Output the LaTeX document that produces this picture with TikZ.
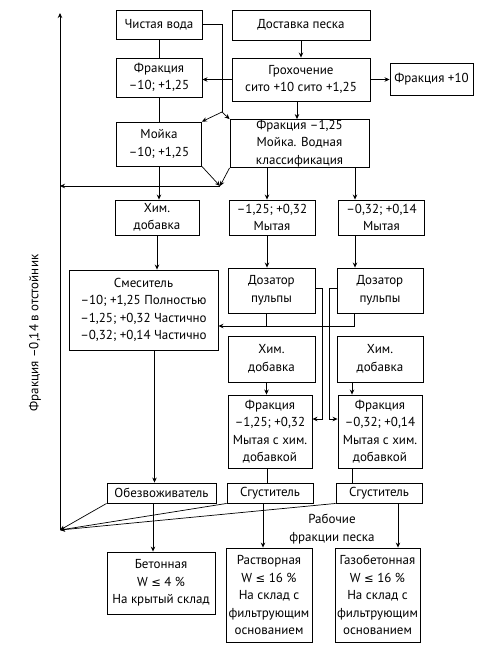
\documentclass[tikz,border=0pt]{standalone}
\usepackage{fontspec}
\setmainfont{PT Sans}
\newfontfamily\symf{DejaVu Sans}
\usetikzlibrary{arrows.meta}
\newcommand{\mylesym}{{\symf\fontsize{11.5pt}{12pt}\selectfont ≤}}
\begin{document}
\begin{tikzpicture}[x=1pt,y=-1pt,
  box/.style={draw, line width=0.9pt, align=center, inner sep=0.5pt,
    font=\fontsize{13pt}{17.5pt}\selectfont},
  lbl/.style={align=center, inner sep=0pt, font=\fontsize{13pt}{17.5pt}\selectfont},
  conn/.style={line width=0.7pt},
  arr/.style={conn, -{Stealth[length=5pt,width=4.5pt]}}]
\useasboundingbox (0,0) rectangle (479,649);
% top row
\node[box, minimum width=86pt, minimum height=29pt] (voda) at (159,24.5) {Чистая вода};
\node[box, minimum width=138pt, minimum height=30pt] (dost) at (301,25) {Доставка песка};
\node[box, minimum width=86pt, minimum height=39pt] (fr1) at (159,77.5) {Фракция\\–10; +1,25};
\node[box, minimum width=138pt, minimum height=43pt] (groh) at (301,79.5) {Грохочение\\сито +10 сито +1,25};
\node[box, minimum width=83pt, minimum height=32pt] (fr10) at (431.5,79) {Фракция +10};
\node[box, minimum width=85pt, minimum height=44pt] (moika) at (159,144) {Мойка\\–10; +1,25};
\node[box, minimum width=139pt, minimum height=47pt] (frw) at (299.5,143.5) {Фракция –1,25\\Мойка. Водная\\классификация};
\node[box, minimum width=84pt, minimum height=35pt] (him1) at (157,217.5) {Хим.\\добавка};
\node[box, minimum width=86pt, minimum height=35pt] (myt1) at (272,217.5) {–1,25; +0,32\\Мытая};
\node[box, minimum width=86pt, minimum height=35pt] (myt2) at (381.5,217.5) {–0,32; +0,14\\Мытая};
\node[box, minimum width=149pt, minimum height=80pt] (smes) at (143.5,310) {Смеситель\\–10; +1,25 Полностью\\–1,25; +0,32 Частично\\–0,32; +0,14 Частично};
\node[box, minimum width=87pt, minimum height=45pt] (doz1) at (271.5,290.5) {Дозатор\\пульпы};
\node[box, minimum width=86pt, minimum height=45pt] (doz2) at (380,290.5) {Дозатор\\пульпы};
\node[box, minimum width=87pt, minimum height=46pt] (him2) at (271.5,359) {Хим.\\добавка};
\node[box, minimum width=86pt, minimum height=46pt] (him3) at (380,359) {Хим.\\добавка};
\node[box, minimum width=84pt, minimum height=73pt] (frh1) at (270,431.5) {Фракция\\–1,25; +0,32\\Мытая с хим.\\добавкой};
\node[box, minimum width=84pt, minimum height=73pt] (frh2) at (380,431.5) {Фракция\\–0,32; +0,14\\Мытая с хим.\\добавкой};
\node[box, minimum width=109pt, minimum height=20pt] (obez) at (161.5,493) {Обезвоживатель};
\node[box, minimum width=86pt, minimum height=20pt] (sg1) at (270,493) {Сгуститель};
\node[box, minimum width=86pt, minimum height=20pt] (sg2) at (379,493) {Сгуститель};
\node[box, minimum width=108pt, minimum height=62pt] (bet) at (161,583) {Бетонная\\W \mylesym{} 4 \%\\На крытый склад};
\node[box, minimum width=86pt, minimum height=94pt] (rast) at (269,595) {Растворная\\W \mylesym{} 16 \%\\На склад с\\фильтрующим\\основанием};
\node[box, minimum width=85pt, minimum height=94pt] (gaz) at (377.5,595) {Газобетонная\\W \mylesym{} 16 \%\\На склад с\\фильтрующим\\основанием};
\node[lbl] (rab) at (332,529) {Рабочие\\фракции песка};
\node[lbl, rotate=90] (otst) at (35,333) {Фракция –0,14 в отстойник};
% coordinates
\coordinate (fork) at (222,112);
\coordinate (conv) at (220,186);
\coordinate (ltop) at (60,13);
\coordinate (lbot) at (60,530);
\coordinate (hrow) at (100,326);
\coordinate (ca) at (322,419);
\coordinate (cb) at (329,419);
% connectors
\draw[conn] (voda.east) -| (fork);
\draw[arr] (fork) -- (moika.north east);
\draw[arr] (fork) -- (frw.north west);
\draw[conn] (voda.south) -- (fr1.north);
\draw[conn] (fr1.south) -- (moika.north);
\draw[arr] (dost.south) -- (groh.north);
\draw[arr] (groh.west) -- (groh.west -| fr1.east);
\draw[arr] (groh.east) -- (groh.east -| fr10.west);
\draw[arr] ([xshift=-4pt]groh.south) -- ([xshift=-4pt]groh.south |- frw.north);
\draw[arr] (moika.south east) -- (conv);
\draw[arr] (frw.south west) -- (conv);
\draw[arr] (conv) -- (conv -| ltop);
\draw[arr] (lbot) -- (ltop);
\draw[arr] (moika.south) -- (moika.south |- him1.north);
\draw[arr] ([xshift=-5pt]myt1.north |- frw.south) -- ([xshift=-5pt]myt1.north);
\draw[arr] ([xshift=-26.5pt]myt2.north |- frw.south) -- ([xshift=-26.5pt]myt2.north);
\draw[arr] (him1.south) -- (him1.south |- smes.north);
\draw[arr] ([xshift=-5pt]myt1.south) -- ([xshift=-5pt]myt1.south |- doz1.north);
\draw[arr] ([xshift=-26.5pt]myt2.south) -- ([xshift=-26.5pt]myt2.south |- doz2.north);
\draw[arr] ([xshift=-26pt]doz2.south) |- (hrow -| smes.east);
\draw[conn] ([xshift=-5pt]doz1.south) -- ([xshift=-5pt]doz1.south |- hrow);
\draw[arr] ([yshift=2.5pt]doz1.east) -| (ca) -- (ca -| frh1.east);
\draw[arr] ([yshift=2.5pt]doz2.west) -| (cb) -- (cb -| frh2.west);
\draw[arr] ([xshift=-5pt]him2.south) -- ([xshift=-5pt]him2.south |- frh1.north);
\draw[arr] ([xshift=-28pt]him3.south) -- ([xshift=-28pt]him3.south |- frh2.north);
\draw[arr] ([xshift=-7pt]obez.north |- smes.south) -- ([xshift=-7pt]obez.north);
\draw[conn] ([xshift=-3pt]frh1.south) -- ([xshift=-3pt]frh1.south |- sg1.north);
\draw[conn] ([xshift=-28pt]frh2.south) -- ([xshift=-28pt]frh2.south |- sg2.north);
\draw[arr] ([xshift=-8.5pt]obez.south) -- ([xshift=-8.5pt]obez.south |- bet.north);
\draw[arr] ([xshift=-7pt]sg1.south) -- ([xshift=-7pt]sg1.south |- rast.north);
\draw[arr] ([xshift=19pt]sg2.south) -- ([xshift=19pt]sg2.south |- gaz.north);
\draw[arr] (obez.south west) -- (lbot);
\draw[arr] (sg1.south west) -- (lbot);
\draw[arr] (sg2.south west) -- (lbot);
\end{tikzpicture}
\end{document}
